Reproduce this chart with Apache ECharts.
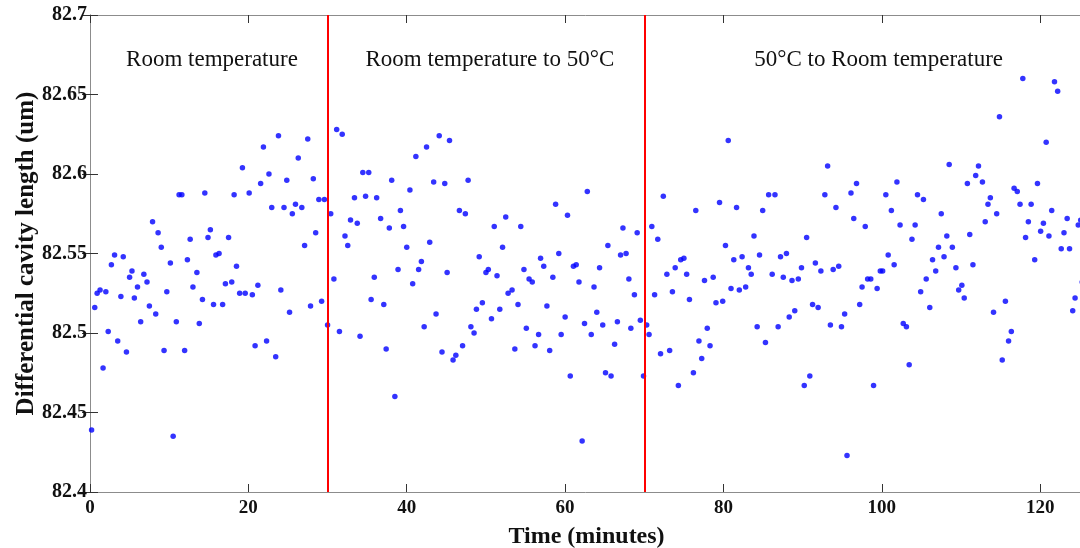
<!DOCTYPE html>
<html>
<head>
<meta charset="utf-8">
<script src="https://cdn.jsdelivr.net/npm/echarts@6/dist/echarts.min.js"></script>
<style>
  html, body { margin: 0; padding: 0; background: #fff; }
  #chart { width: 1080px; height: 548px; }
</style>
</head>
<body>
<div id="chart"></div>
<script>
// Sample times (minutes)
const times = [
  0.2, 0.6, 0.9, 1.27, 1.65, 2.0, 2.3, 2.7, 3.1, 3.5, 3.9, 4.2, 4.6, 5.0, 5.3, 5.6, 6.0, 6.4, 6.8, 7.2,
  7.5, 7.9, 8.3, 8.6, 9.0, 9.35, 9.7, 10.15, 10.5, 10.9, 11.25, 11.6, 11.95, 12.3, 12.65, 13.0, 13.5, 13.8, 14.2, 14.5,
  14.9, 15.2, 15.6, 15.9, 16.3, 16.75, 17.1, 17.5, 17.9, 18.2, 18.5, 18.9, 19.25, 19.6, 20.1, 20.5, 20.85, 21.2, 21.55, 21.9,
  22.3, 22.6, 22.95, 23.45, 23.8, 24.1, 24.5, 24.85, 25.2, 25.55, 25.95, 26.3, 26.75, 27.1, 27.5, 27.85, 28.2, 28.5, 28.9, 29.25,
  29.6, 30.0, 30.4, 30.8, 31.15, 31.5, 31.85, 32.2, 32.55, 32.9, 33.4, 33.75, 34.1, 34.45, 34.8, 35.2, 35.5, 35.9, 36.2, 36.7,
  37.1, 37.4, 37.8, 38.1, 38.5, 38.9, 39.2, 39.6, 40.0, 40.4, 40.75, 41.15, 41.5, 41.85, 42.2, 42.5, 42.9, 43.4, 43.7, 44.1,
  44.45, 44.8, 45.1, 45.4, 45.85, 46.2, 46.65, 47.05, 47.4, 47.75, 48.1, 48.5, 48.8, 49.15, 49.55, 50.0, 50.3, 50.7, 51.05, 51.4,
  51.75, 52.1, 52.5, 52.8, 53.3, 53.65, 54.05, 54.4, 54.8, 55.1, 55.45, 55.85, 56.2, 56.65, 56.9, 57.3, 57.7, 58.05, 58.45, 58.8,
  59.2, 59.5, 60.0, 60.3, 60.65, 61.05, 61.4, 61.75, 62.15, 62.45, 62.8, 63.3, 63.65, 64.0, 64.35, 64.75, 65.1, 65.4, 65.8, 66.25,
  66.6, 67.0, 67.3, 67.7, 68.05, 68.3, 68.75, 69.1, 69.5, 69.9, 70.3, 70.6, 70.95, 71.3, 71.7, 72.05, 72.4, 72.85, 73.2, 73.55,
  73.9, 74.3, 74.6, 75.0, 75.35, 75.7, 76.2, 76.5, 76.9, 77.25, 77.6, 77.95, 78.3, 78.7, 79.05, 79.5, 79.9, 80.25, 80.6, 80.95,
  81.3, 81.65, 82.0, 82.35, 82.8, 83.15, 83.5, 83.85, 84.25, 84.55, 84.95, 85.3, 85.7, 86.15, 86.5, 86.9, 87.2, 87.55, 87.95, 88.3,
  88.65, 89.0, 89.45, 89.85, 90.2, 90.5, 90.9, 91.25, 91.6, 91.95, 92.3, 92.8, 93.15, 93.5, 93.85, 94.2, 94.55, 94.9, 95.3, 95.6,
  96.1, 96.45, 96.8, 97.2, 97.5, 97.9, 98.2, 98.6, 98.95, 99.4, 99.8, 100.1, 100.5, 100.8, 101.2, 101.55, 101.9, 102.3, 102.7, 103.1,
  103.45, 103.8, 104.2, 104.5, 104.9, 105.25, 105.6, 106.05, 106.4, 106.8, 107.15, 107.5, 107.85, 108.2, 108.5, 108.9, 109.35, 109.7, 110.1, 110.4,
  110.8, 111.1, 111.5, 111.85, 112.2, 112.7, 113.05, 113.4, 113.7, 114.1, 114.5, 114.85, 115.2, 115.6, 116.0, 116.35, 116.7, 117.1, 117.45, 117.8,
  118.15, 118.5, 118.85, 119.3, 119.65, 120.05, 120.4, 120.75, 121.1, 121.45, 121.8, 122.2, 122.65, 123.0, 123.4, 123.7, 124.1, 124.4, 124.8, 125.1,
  125.3
];

// Differential cavity length (um) at each sample time
const lengths = [
  82.439, 82.516, 82.525, 82.527, 82.478, 82.526, 82.501, 82.543, 82.549, 82.495, 82.523, 82.548, 82.488, 82.535, 82.539, 82.522, 82.529, 82.507, 82.537, 82.532,
  82.517, 82.570, 82.512, 82.563, 82.554, 82.489, 82.526, 82.544, 82.435, 82.507, 82.587, 82.587, 82.489, 82.546, 82.559, 82.529, 82.538, 82.506, 82.521, 82.588,
  82.560, 82.565, 82.518, 82.549, 82.550, 82.518, 82.531, 82.560, 82.532, 82.587, 82.542, 82.525, 82.604, 82.525, 82.588, 82.524, 82.492, 82.530, 82.594, 82.617,
  82.495, 82.600, 82.579, 82.485, 82.624, 82.527, 82.579, 82.596, 82.513, 82.575, 82.581, 82.610, 82.579, 82.555, 82.622, 82.517, 82.597, 82.563, 82.584, 82.520,
  82.584, 82.505, 82.575, 82.534, 82.628, 82.501, 82.625, 82.561, 82.555, 82.571, 82.585, 82.569, 82.498, 82.601, 82.586, 82.601, 82.521, 82.535, 82.585, 82.572,
  82.518, 82.490, 82.566, 82.596, 82.460, 82.540, 82.577, 82.567, 82.554, 82.590, 82.531, 82.611, 82.540, 82.545, 82.504, 82.617, 82.557, 82.595, 82.512, 82.624,
  82.488, 82.594, 82.538, 82.621, 82.483, 82.486, 82.577, 82.492, 82.575, 82.596, 82.504, 82.500, 82.515, 82.548, 82.519, 82.538, 82.540, 82.509, 82.567, 82.536,
  82.515, 82.554, 82.573, 82.525, 82.527, 82.490, 82.518, 82.567, 82.540, 82.503, 82.534, 82.532, 82.492, 82.499, 82.547, 82.542, 82.517, 82.489, 82.535, 82.581,
  82.550, 82.499, 82.510, 82.574, 82.473, 82.542, 82.543, 82.532, 82.432, 82.506, 82.589, 82.499, 82.529, 82.513, 82.541, 82.505, 82.475, 82.555, 82.473, 82.493,
  82.507, 82.549, 82.566, 82.550, 82.534, 82.503, 82.524, 82.563, 82.508, 82.473, 82.505, 82.499, 82.567, 82.524, 82.559, 82.487, 82.586, 82.537, 82.489, 82.526,
  82.541, 82.467, 82.546, 82.547, 82.537, 82.521, 82.475, 82.577, 82.495, 82.484, 82.533, 82.503, 82.492, 82.535, 82.519, 82.582, 82.520, 82.555, 82.621, 82.528,
  82.546, 82.579, 82.527, 82.548, 82.529, 82.541, 82.537, 82.561, 82.504, 82.549, 82.577, 82.494, 82.587, 82.537, 82.587, 82.504, 82.548, 82.535, 82.550, 82.510,
  82.533, 82.514, 82.534, 82.541, 82.467, 82.560, 82.473, 82.518, 82.544, 82.516, 82.539, 82.587, 82.605, 82.505, 82.540, 82.579, 82.542, 82.504, 82.512, 82.423,
  82.588, 82.572, 82.594, 82.518, 82.529, 82.567, 82.534, 82.534, 82.467, 82.528, 82.539, 82.539, 82.587, 82.549, 82.577, 82.543, 82.595, 82.568, 82.506, 82.504,
  82.480, 82.559, 82.568, 82.587, 82.526, 82.584, 82.534, 82.516, 82.546, 82.539, 82.554, 82.575, 82.548, 82.561, 82.606, 82.554, 82.541, 82.527, 82.530, 82.522,
  82.594, 82.562, 82.543, 82.599, 82.605, 82.595, 82.570, 82.581, 82.585, 82.513, 82.575, 82.636, 82.483, 82.520, 82.495, 82.501, 82.591, 82.589, 82.581, 82.660,
  82.560, 82.570, 82.581, 82.546, 82.594, 82.564, 82.569, 82.620, 82.561, 82.577, 82.658, 82.652, 82.553, 82.563, 82.572, 82.553, 82.514, 82.522, 82.568, 82.571,
  82.532
];

// Times at which the temperature regime changes
const phaseBoundaries = [30, 70];

// Phase captions and the time each is centred on
const phaseLabels = ['Room temperature', 'Room temperature to 50°C', '50°C to Room temperature'];
const phaseLabelTimes = [15.4, 50.5, 99.6];

const xRange = [0, 125.4];
const xStep = 20;
const yRange = [82.4, 82.7];
const yStep = 0.05;

const points = times.map((t, i) => [t, lengths[i]]);

const chart = echarts.init(document.getElementById('chart'), null, { renderer: 'canvas' });

const serif = '"Liberation Serif", "Times New Roman", serif';
const axisLineStyle = { color: '#8c8c8c', width: 1 };
const tickStyle = { color: '#333', width: 1 };

const option = {
  animation: false,
  backgroundColor: '#ffffff',
  grid: { left: 90, right: -3, top: 15, bottom: 56, containLabel: false, outerBoundsMode: 'none' },
  xAxis: [
    {
      type: 'value', min: xRange[0], max: xRange[1], interval: xStep,
      name: 'Time (minutes)', nameLocation: 'middle', nameGap: 33,
      nameTextStyle: { fontFamily: serif, fontWeight: 'bold', fontSize: 24, color: '#111' },
      axisLine: { show: true, lineStyle: axisLineStyle },
      axisTick: { show: true, inside: true, length: 8, lineStyle: tickStyle },
      axisLabel: { fontFamily: serif, fontWeight: 'bold', fontSize: 19, color: '#111', margin: 7, showMaxLabel: false },
      splitLine: { show: false }
    },
    {
      type: 'value', position: 'top', min: xRange[0], max: xRange[1], interval: xStep,
      axisLine: { show: true, lineStyle: axisLineStyle },
      axisTick: { show: true, inside: true, length: 8, lineStyle: tickStyle },
      axisLabel: { show: false },
      splitLine: { show: false }
    }
  ],
  yAxis: [
    {
      type: 'value', min: yRange[0], max: yRange[1], interval: yStep,
      name: 'Differential cavity length (um)', nameLocation: 'middle', nameGap: 51, nameRotate: 90,
      nameMoveOverlap: false,
      nameTextStyle: { fontFamily: serif, fontWeight: 'bold', fontSize: 25, color: '#111' },
      axisLine: { show: true, lineStyle: axisLineStyle },
      axisTick: { show: true, inside: true, length: 8, lineStyle: tickStyle },
      axisLabel: { fontFamily: serif, fontWeight: 'bold', fontSize: 20, color: '#111', margin: 3 },
      splitLine: { show: false }
    },
    {
      type: 'value', position: 'right', min: yRange[0], max: yRange[1], interval: yStep,
      axisLine: { show: true, lineStyle: axisLineStyle },
      axisTick: { show: true, inside: true, length: 8, lineStyle: tickStyle },
      axisLabel: { show: false },
      splitLine: { show: false }
    }
  ],
  series: [
    {
      type: 'scatter',
      xAxisIndex: 0, yAxisIndex: 0,
      data: points,
      symbol: 'circle',
      symbolSize: 5.5,
      clip: true,
      itemStyle: { color: '#0000ff' },
      markLine: {
        silent: true,
        symbol: ['none', 'none'],
        label: { show: false },
        lineStyle: { color: '#ff0000', width: 2, type: 'solid' },
        data: phaseBoundaries.map(x => ({ xAxis: x }))
      },
      z: 3
    }
  ]
};

chart.setOption(option);

// Phase captions, placed over the time each phase is centred on
const captionY = 60;
chart.setOption({
  graphic: phaseLabels.map((text, i) => ({
    type: 'text',
    x: chart.convertToPixel({ xAxisIndex: 0 }, phaseLabelTimes[i]),
    y: captionY,
    style: {
      text: text,
      font: '23px ' + serif,
      fill: '#111',
      align: 'center',
      verticalAlign: 'middle'
    },
    silent: true
  }))
});
</script>
</body>
</html>
